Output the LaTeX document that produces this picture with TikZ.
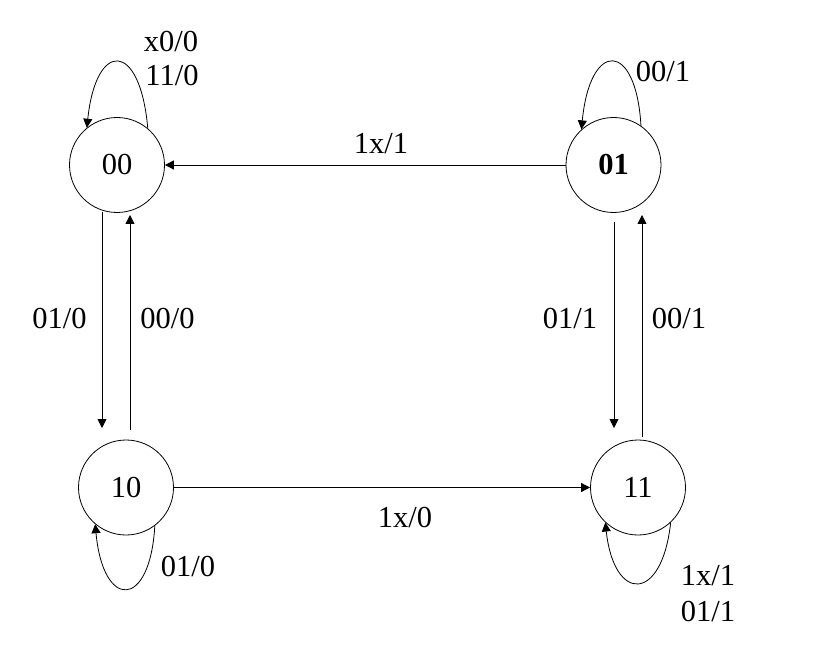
\documentclass[tikz,border=0pt]{standalone}
\usepackage{fontspec}
\setmainfont{Liberation Serif}
\usetikzlibrary{arrows.meta}
\begin{document}
\begin{tikzpicture}[x=1pt,y=-1pt,
  stnode/.style={circle,draw,line width=0.8pt,minimum size=95pt,inner sep=0pt},
  lbl/.style={inner sep=0pt},
  tr/.style={line width=0.8pt,-{Triangle[length=9pt,width=9pt]}},
  every node/.style={font=\fontsize{30.5}{36}\selectfont}]
\useasboundingbox (0,0) rectangle (828,666);
\fill[white] (0,0) rectangle (828,666);
\node[stnode] (n00) at (117,165) {00};
\node[stnode] (n01) at (613.5,165) {\textbf{01}};
\node[stnode] (n10) at (126,487.5) {10};
\node[stnode] (n11) at (638,487.5) {11};
% vertical arrows
\coordinate (a1s) at (102,212);
\coordinate (a1e) at (102,428);
\coordinate (a2s) at (130,430);
\coordinate (a2e) at (130,215);
\coordinate (a3s) at (614,222);
\coordinate (a3e) at (614,428);
\coordinate (a4s) at (642,437);
\coordinate (a4e) at (642,215);
\draw[tr] (a1s) -- (a1e);
\draw[tr] (a2s) -- (a2e);
\draw[tr] (a3s) -- (a3e);
\draw[tr] (a4s) -- (a4e);
% horizontal arrows
\draw[tr] (n01.west) -- (n00.east);
\draw[tr] (n10.east) -- (n11.west);
% self loops
\draw[tr] (n00.50) .. controls (140,40) and (96,40) .. (n00.129);
\draw[tr] (n01.55) .. controls (636,40) and (590,40) .. (n01.132);
\draw[tr] (n10.-53) .. controls (150,610) and (103,610) .. (n10.-130);
\draw[tr] (n11.-47) .. controls (662,603) and (614,603) .. (n11.-133);
% labels
\node[lbl] (l1) at (171,42) {x0/0};
\node[lbl] (l2) at (172,76) {11/0};
\node[lbl] (l3) at (663,72) {00/1};
\node[lbl] (l4) at (381,144) {1x/1};
\node[lbl] (l5) at (59.5,319) {01/0};
\node[lbl] (l6) at (167.5,319) {00/0};
\node[lbl] (l7) at (570,319) {01/1};
\node[lbl] (l8) at (679,319) {00/1};
\node[lbl] (l9) at (405,518) {1x/0};
\node[lbl] (l10) at (188,567) {01/0};
\node[lbl] (l11) at (708,576) {1x/1};
\node[lbl] (l12) at (708,612) {01/1};
\end{tikzpicture}
\end{document}
